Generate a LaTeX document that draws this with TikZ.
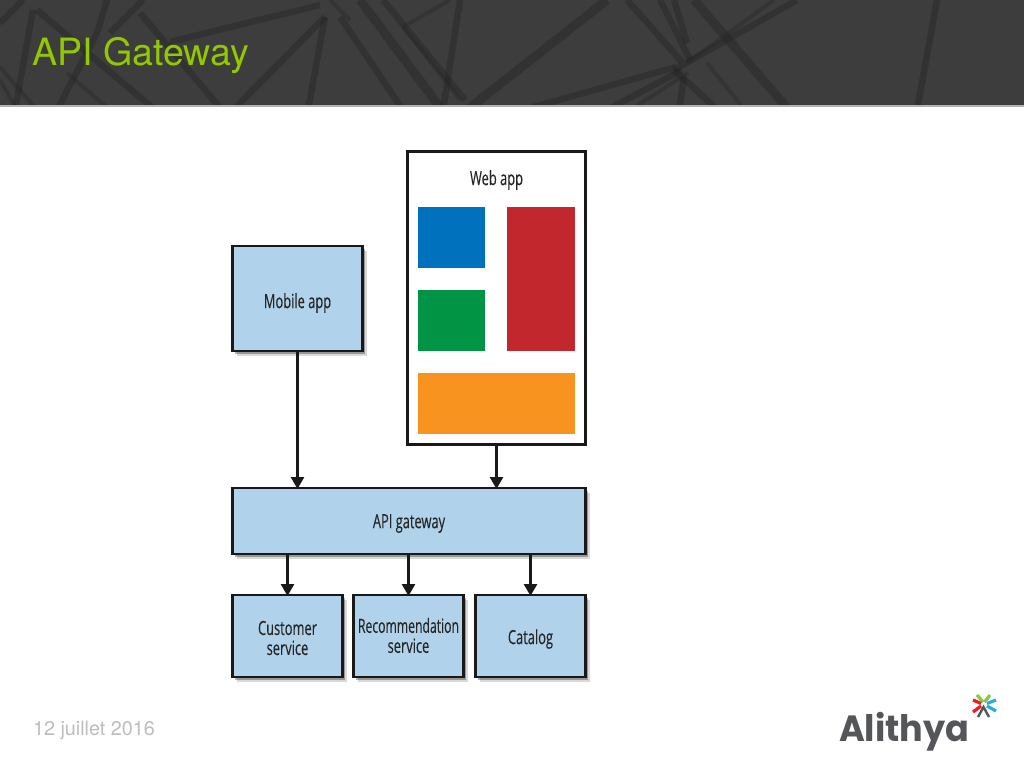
\documentclass[tikz,border=0pt]{standalone}
\usepackage{fontspec}
\usetikzlibrary{shadows,arrows.meta}
\setmainfont{TeX Gyre Heros}
\newfontfamily\boxfont[FakeStretch=0.66,FakeBold=0.25]{Open Sans}
\newfontfamily\recfont[FakeStretch=0.625,FakeBold=0.25]{Open Sans}
\newfontfamily\logofont[FakeStretch=0.96]{Poppins}
\newcommand{\lowered}[2]{\raisebox{-#1}[\height][\depth]{#2}}
\definecolor{hdr}{HTML}{3D3D3D}
\definecolor{beam}{HTML}{222222}
\definecolor{boxblue}{HTML}{B0D2EA}
\definecolor{titlegreen}{HTML}{92C800}
\definecolor{dategray}{HTML}{BDBDBD}
\definecolor{logogray}{HTML}{54565A}
\definecolor{tileblue}{HTML}{0071BC}
\definecolor{tilered}{HTML}{C1272D}
\definecolor{tilegreen}{HTML}{009444}
\definecolor{tileorange}{HTML}{F7931E}
\definecolor{stargreen}{HTML}{8CC63F}
\definecolor{starred}{HTML}{ED1C24}
\definecolor{starblue}{HTML}{29ABE2}
\tikzset{
  boxtext/.style={font=\boxfont\fontsize{19.5}{20}\selectfont,text=black!85},
  bluebox/.style={draw=black!90,fill=boxblue,line width=2.6pt,inner sep=0pt,outer sep=0pt,align=center,boxtext,
    drop shadow={shadow xshift=1pt,shadow yshift=-1pt,opacity=.35,fill=black},
    drop shadow={shadow xshift=2.5pt,shadow yshift=-2.5pt,opacity=.3,fill=black},
    drop shadow={shadow xshift=4pt,shadow yshift=-4.5pt,opacity=.15,fill=black}},
  webframe/.style={draw=black!90,fill=white,line width=2.6pt,inner sep=0pt,outer sep=0pt},
  tile/.style={inner sep=0pt,outer sep=0pt},
  link/.style={line width=2.6pt,black!90,-{Triangle[length=12pt,width=13pt]},shorten >=-1pt},
  bwide/.style={beam,opacity=.38,line width=9pt},
  bm/.style={beam,opacity=.38,line width=6.5pt},
  bs/.style={beam,opacity=.3,line width=4pt},
  star/.style={line width=3.2pt}
}
\begin{document}
\begin{tikzpicture}[x=1pt,y=-1pt]
\useasboundingbox (0,0) rectangle (1024,768);
\fill[white] (0,0) rectangle (1024,768);
\fill[hdr] (0,0) rectangle (1024,105);
\begin{scope}
\clip (0,0) rectangle (1024,105);
\draw[bm] (320,5)--(170,42);
\draw[bm] (325,17)--(233,110);
\draw[bm] (325,17)--(308,110);
\draw[bm] (107,0)--(97,33);
\draw[bm] (143,0)--(110,33);
\draw[bm] (140,13)--(222,110);
\draw[bm] (33,10)--(15,110);
\draw[bm] (23,0)--(0,23);
\draw[bm] (37,10)--(155,110);
\draw[bs] (0,67)--(37,110);
\draw[bs] (0,80)--(17,110);
\draw[bm] (97,33)--(57,110);
\draw[bs] (67,73)--(110,110);
\draw[bs] (330,0)--(350,20);
\draw[bm] (340,17)--(403,110);
\draw[bwide] (360,0)--(442,110);
\draw[bm] (383,0)--(465,100);
\draw[bm] (460,0)--(443,110);
\draw[bs] (450,0)--(403,27);
\draw[bs] (403,27)--(460,100);
\draw[bwide] (607,0)--(467,110);
\draw[bm] (627,0)--(682,62);
\draw[bm] (660,0)--(690,60);
\draw[bm] (676,67)--(523,110);
\draw[bm] (682,70)--(607,110);
\draw[bs] (688,73)--(630,110);
\draw[bwide] (694,0)--(789,110);
\draw[bm] (797,0)--(674,70);
\draw[bs] (774,0)--(687,63);
\draw[bm] (937,0)--(917,110);
\draw[bm] (674,70)--(718,110);
\draw[bs] (707,63)--(745,110);
\draw[bm] (684,77)--(679,110);
\draw[bm] (674,0)--(687,43);
\end{scope}
\fill[gray!60] (0,105) rectangle (1024,106.5);
\node[tile,anchor=base west,text=titlegreen,font=\fontsize{37.6}{40}\selectfont] (title) at (32,65.5) {API Gateway};
\node[tile,anchor=base west,text=dategray,font=\fontsize{19.8}{22}\selectfont] (date) at (33,735) {12 juillet 2016};

% boxes
\node[webframe,
    drop shadow={shadow xshift=1pt,shadow yshift=-1pt,opacity=.3,fill=black},
    minimum width=178pt,minimum height=293pt] (web) at (496.5,298) {};
\node[tile,boxtext] (weblabel) at (496.5,180) {Web app};
\node[tile,fill=tileblue,minimum width=67pt,minimum height=61pt] (tb) at (451.5,237.5) {};
\node[tile,fill=tilered,minimum width=68pt,minimum height=144pt] (tr) at (541,279) {};
\node[tile,fill=tilegreen,minimum width=67pt,minimum height=61pt] (tg) at (451.5,320.5) {};
\node[tile,fill=tileorange,minimum width=157pt,minimum height=61pt] (to) at (496.5,403.5) {};

\node[bluebox,minimum width=130pt,minimum height=105pt] (mobile) at (297.5,298.5) {\lowered{4.5pt}{Mobile app}};
\node[bluebox,minimum width=353pt,minimum height=66pt] (gw) at (409,521) {\lowered{2.5pt}{API gateway}};
\node[bluebox,minimum width=110pt,minimum height=82pt] (cust) at (287.5,636) {\lowered{2pt}{Customer}\\\lowered{2pt}{service}};
\node[bluebox,minimum width=110pt,minimum height=82pt] (rec) at (408.5,636) {\recfont\lowered{-.5pt}{Recommendation}\\\lowered{-.5pt}{\boxfont service}};
\node[bluebox,minimum width=110pt,minimum height=82pt] (cat) at (530.5,636) {\lowered{3pt}{Catalog}};

\draw[link] (mobile.south) -- (mobile.south |- gw.north);
\draw[link] (web.south) -- (web.south |- gw.north);
\draw[link] (cust.north |- gw.south) -- (cust.north);
\draw[link] (rec.north |- gw.south) -- (rec.north);
\draw[link] (cat.north |- gw.south) -- (cat.north);

% logo
\node[tile,anchor=base west,text=logogray,font=\logofont\bfseries\fontsize{36.5}{40}\selectfont] (logo) at (839,741) {Alithya};
\draw[star,stargreen] (977,695)--(983,702) (990,695)--(984.5,702);
\draw[star,starred] (973,700)--(981,703.5) (973,712)--(981,706);
\draw[star,starblue] (996,700)--(987,703.5) (996,711)--(987,706);
\draw[logogray,line width=2.4pt] (978,717)--(983.5,707)--(989,717);
\end{tikzpicture}
\end{document}
